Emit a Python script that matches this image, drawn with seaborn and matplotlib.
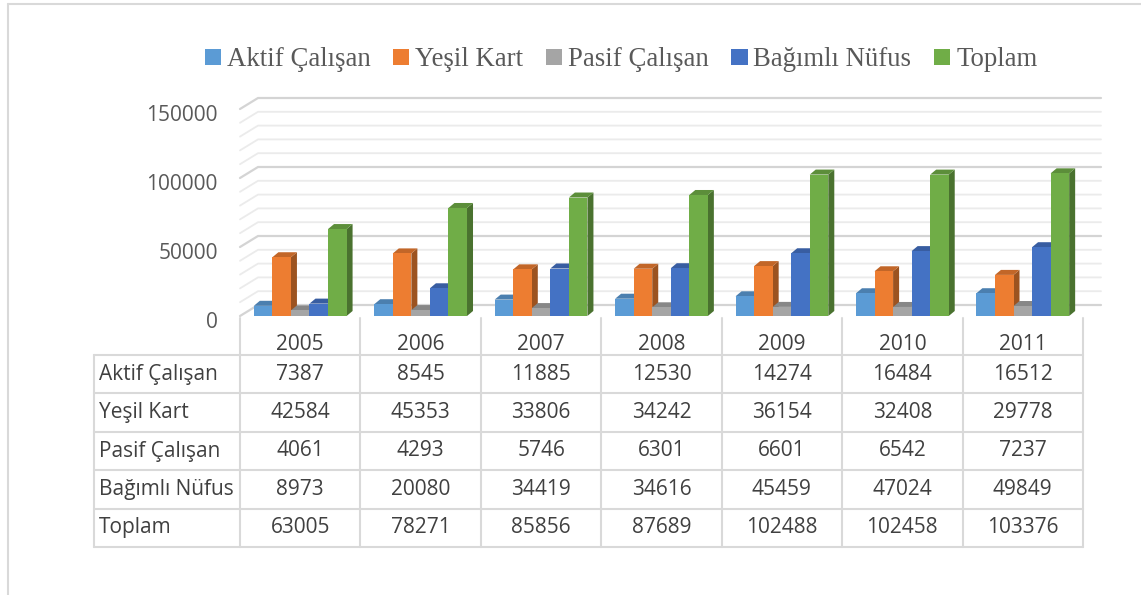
import matplotlib
matplotlib.use("Agg")
import matplotlib.pyplot as plt
import matplotlib.transforms as mtransforms
from matplotlib.colors import to_rgb
from matplotlib.lines import Line2D
from matplotlib.patches import Polygon, Patch
import numpy as np
import pandas as pd
import seaborn as sns

# Data (from the table under the chart)
years = ["2005", "2006", "2007", "2008", "2009", "2010", "2011"]
series = ["Aktif Çalışan", "Yeşil Kart", "Pasif Çalışan", "Bağımlı Nüfus", "Toplam"]
aktif = [7387, 8545, 11885, 12530, 14274, 16484, 16512]
yesil = [42584, 45353, 33806, 34242, 36154, 32408, 29778]
pasif = [4061, 4293, 5746, 6301, 6601, 6542, 7237]
bagimli = [8973, 20080, 34419, 34616, 45459, 47024, 49849]
toplam = [63005, 78271, 85856, 87689, 102488, 102458, 103376]
colors = ["#5B9BD5", "#ED7D31", "#A5A5A5", "#4472C4", "#70AD47"]

values = [aktif, yesil, pasif, bagimli, toplam]
df = pd.DataFrame({
    "Yıl": np.tile(years, len(series)),
    "Seri": np.repeat(series, len(years)),
    "Değer": np.concatenate(values),
})

sns.set_theme(style="white")
plt.rcParams["font.family"] = ["Open Sans", "DejaVu Sans"]

W, H = 1141, 595
fig = plt.figure(figsize=(W / 100, H / 100), dpi=100)
ax = fig.add_axes([240 / W, 1 - 316 / H, 843 / W, 207 / H])

sns.barplot(data=df, x="Yıl", y="Değer", hue="Seri", palette=colors, width=0.77,
            saturation=1, linewidth=0, ax=ax, legend=False)
ax.set_xlim(-0.5, 6.5)
ax.set_ylim(0, 150000)
ax.autoscale(False)
sns.despine(ax=ax, left=True, bottom=True)
ax.set_xlabel("")
ax.set_ylabel("")
ax.set_yticks([0, 50000, 100000, 150000])
ax.set_yticklabels(["0", "50000", "100000", "150000"])
ax.tick_params(axis="y", length=0, pad=16, labelsize=15, labelcolor="#595959")
ax.tick_params(axis="x", length=0, pad=13, labelsize=15, labelcolor="#404040")
# labels sit slightly below the front edge in the original
shift = mtransforms.ScaledTranslation(0, -4 / 100, fig.dpi_scale_trans)
for lbl in ax.get_yticklabels():
    lbl.set_transform(lbl.get_transform() + shift)

ident = mtransforms.IdentityTransform()

# back wall gridlines (3D look)
wx, wy = 18, 11
for v in range(0, 150001, 10000):
    (fx, fy), (rx, _) = ax.transData.transform([(-0.5, v), (6.5, v)])
    major = v % 50000 == 0
    ax.add_line(Line2D([fx, fx + wx, rx + wx], [fy, fy + wy, fy + wy], transform=ident,
                       color="#d4d4d4" if major else "#ebebeb", lw=1.6 if major else 1.3,
                       zorder=0.5, clip_on=False))

# bar depth: side and top faces
dx, dy = 6, 5
for k, cont in enumerate(ax.containers):
    base = np.array(to_rgb(colors[k]))
    for bar in cont:
        bar.set_zorder(3 + 2 * k)
        (x0, y0), (x1, y1) = ax.transData.transform(
            [(bar.get_x(), 0), (bar.get_x() + bar.get_width(), bar.get_height())])
        side = [(x1, y0), (x1 + dx, y0 + dy), (x1 + dx, y1 + dy), (x1, y1)]
        top = [(x0, y1), (x0 + dx, y1 + dy), (x1 + dx, y1 + dy), (x1, y1)]
        ax.add_patch(Polygon(side, closed=True, transform=ident, fc=base * 0.66, ec="none",
                             zorder=2 + 2 * k, clip_on=False))
        ax.add_patch(Polygon(top, closed=True, transform=ident, fc=base * 0.82, ec="none",
                             zorder=2 + 2 * k, clip_on=False))

# data table
grid_c = "#d9d9d9"
cols = [ax.transData.transform((i - 0.5, 0))[0] for i in range(len(years) + 1)]
row_top = 355
row_h = 38.4
rows = [row_top + i * row_h for i in range(len(series) + 1)]
left = 94
for x in cols:
    fig.add_artist(Line2D([x, x], [H - 318, H - rows[-1]], transform=ident, color=grid_c, lw=1.5))
fig.add_artist(Line2D([left, left], [H - rows[0], H - rows[-1]], transform=ident, color=grid_c, lw=1.5))
for y in rows:
    fig.add_artist(Line2D([left, cols[-1]], [H - y, H - y], transform=ident, color=grid_c, lw=1.5))

for r, (name, vals) in enumerate(zip(series, values)):
    yc = H - (rows[r] + row_h / 2)
    fig.text(99, yc, name, transform=ident, ha="left", va="center", fontsize=15, color="#404040")
    for c, v in enumerate(vals):
        xc = (cols[c] + cols[c + 1]) / 2
        fig.text(xc, yc, str(v), transform=ident, ha="center", va="center", fontsize=15, color="#404040")

# legend
handles = [Patch(fc=c, ec="none", label=s) for c, s in zip(colors, series)]
fig.legend(handles=handles, loc="center", bbox_to_anchor=(621 / W, 1 - 60 / H), ncol=5,
           frameon=False, prop={"family": "Liberation Serif", "size": 19.3},
           handlelength=0.6, handleheight=0.55, handletextpad=0.22, columnspacing=0.85,
           labelcolor="#595959")

# chart border
fig.add_artist(Line2D([8 / W, 8 / W], [0, 1 - 4 / H], color=grid_c, lw=1.5))
fig.add_artist(Line2D([8 / W, 1], [1 - 4 / H, 1 - 4 / H], color=grid_c, lw=1.5))

fig.savefig("out.png", dpi=100)
